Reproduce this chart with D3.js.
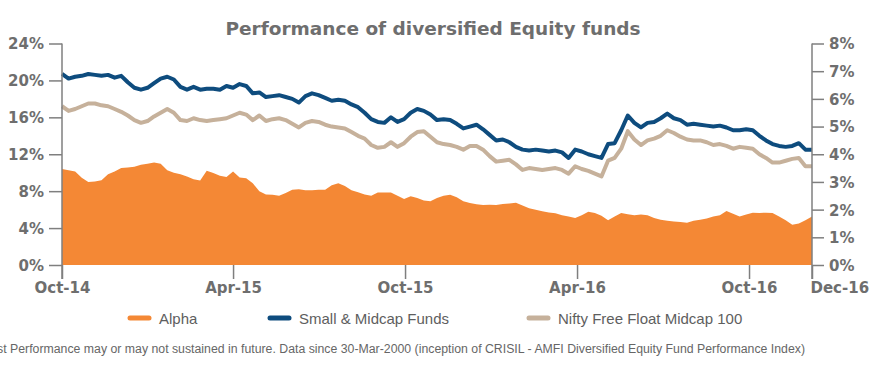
<!DOCTYPE html>
<html>
<head>
<meta charset="utf-8">
<script src="https://cdn.jsdelivr.net/npm/d3@7"></script>
<style>
  body { margin: 0; background: #fff; }
  svg { display: block; }
</style>
</head>
<body>
<svg id="chart" width="870" height="376"></svg>
<script>

const dates = [
  "2014-10-01","2014-10-08","2014-10-15","2014-10-22","2014-10-29","2014-11-05","2014-11-12","2014-11-19","2014-11-26",
  "2014-12-03","2014-12-10","2014-12-17","2014-12-24","2014-12-31",
  "2015-01-07","2015-01-14","2015-01-21","2015-01-28","2015-02-04","2015-02-11","2015-02-18","2015-02-25",
  "2015-03-04","2015-03-11","2015-03-18","2015-03-25","2015-04-01","2015-04-08","2015-04-15","2015-04-22","2015-04-29",
  "2015-05-06","2015-05-13","2015-05-20","2015-05-27","2015-06-03","2015-06-10","2015-06-17","2015-06-24",
  "2015-07-01","2015-07-08","2015-07-15","2015-07-22","2015-07-29","2015-08-05","2015-08-12","2015-08-19","2015-08-26",
  "2015-09-02","2015-09-09","2015-09-16","2015-09-23","2015-09-30","2015-10-07","2015-10-14","2015-10-21","2015-10-28",
  "2015-11-04","2015-11-11","2015-11-18","2015-11-25","2015-12-02","2015-12-09","2015-12-16","2015-12-23","2015-12-30",
  "2016-01-06","2016-01-13","2016-01-20","2016-01-27","2016-02-03","2016-02-10","2016-02-17","2016-02-24",
  "2016-03-02","2016-03-09","2016-03-16","2016-03-23","2016-03-30","2016-04-06","2016-04-13","2016-04-20","2016-04-27",
  "2016-05-04","2016-05-11","2016-05-18","2016-05-25","2016-06-01","2016-06-08","2016-06-15","2016-06-22","2016-06-29",
  "2016-07-06","2016-07-13","2016-07-20","2016-07-27","2016-08-03","2016-08-10","2016-08-17","2016-08-24","2016-08-31",
  "2016-09-07","2016-09-14","2016-09-21","2016-09-28","2016-10-05","2016-10-12","2016-10-19","2016-10-26",
  "2016-11-02","2016-11-09","2016-11-16","2016-11-23","2016-11-30","2016-12-07"
];

// Small & Midcap Funds (left axis, %)
const smallMidcap = [
  20.7,20.2,20.4,20.5,20.7,20.6,20.5,20.6,20.3,20.5,19.8,19.2,19.0,19.2,19.7,20.2,20.4,20.1,19.3,19.0,
  19.3,19.0,19.1,19.1,19.0,19.4,19.2,19.6,19.4,18.6,18.7,18.2,18.3,18.4,18.2,18.0,17.6,18.3,18.6,18.4,
  18.1,17.8,17.9,17.8,17.4,17.1,16.5,15.8,15.5,15.4,16.0,15.5,15.8,16.5,16.9,16.7,16.3,15.7,15.8,15.7,
  15.3,14.8,15.0,15.2,14.7,14.1,13.5,13.6,13.3,12.8,12.5,12.4,12.5,12.4,12.3,12.4,12.2,11.6,12.5,12.3,
  12.0,11.8,11.6,13.1,13.2,14.6,16.2,15.4,14.9,15.4,15.5,15.9,16.4,15.9,15.7,15.2,15.3,15.2,15.1,15.0,
  15.1,14.9,14.6,14.6,14.7,14.6,14.0,13.5,13.1,12.9,12.8,12.9,13.2,12.5,12.5
];

// Nifty Free Float Midcap 100 (left axis, %)
const niftyMidcap = [
  17.2,16.7,16.9,17.2,17.5,17.5,17.3,17.2,16.9,16.6,16.2,15.7,15.4,15.6,16.1,16.5,16.9,16.5,15.7,15.6,
  15.9,15.7,15.6,15.7,15.8,15.9,16.2,16.5,16.3,15.7,16.2,15.6,15.8,15.9,15.7,15.3,14.9,15.4,15.6,15.5,
  15.2,15.0,14.9,14.8,14.4,14.0,13.7,13.0,12.7,12.8,13.3,12.8,13.2,13.9,14.4,14.5,13.9,13.3,13.1,13.0,
  12.8,12.5,12.9,12.9,12.5,11.8,11.2,11.3,11.4,10.9,10.3,10.5,10.4,10.3,10.4,10.5,10.3,9.9,10.7,10.4,
  10.2,9.9,9.6,11.3,11.6,12.6,14.5,13.6,13.0,13.5,13.7,14.0,14.6,14.3,13.9,13.6,13.5,13.5,13.3,13.0,
  13.1,12.9,12.6,12.8,12.7,12.6,12.0,11.6,11.1,11.1,11.3,11.5,11.6,10.7,10.7
];

// Alpha (right axis, %)
const alpha = [
  3.47,3.42,3.38,3.15,3.00,3.02,3.06,3.28,3.38,3.50,3.52,3.55,3.62,3.66,3.70,3.66,3.42,3.33,3.28,3.20,
  3.10,3.05,3.40,3.32,3.22,3.18,3.38,3.16,3.13,2.95,2.66,2.55,2.54,2.50,2.60,2.72,2.74,2.70,2.70,2.72,
  2.72,2.88,2.95,2.85,2.70,2.63,2.55,2.50,2.62,2.62,2.62,2.50,2.38,2.48,2.42,2.33,2.30,2.42,2.50,2.54,
  2.45,2.30,2.24,2.19,2.17,2.18,2.17,2.20,2.22,2.25,2.15,2.05,2.00,1.94,1.90,1.87,1.80,1.75,1.70,1.80,
  1.92,1.88,1.78,1.62,1.75,1.88,1.83,1.80,1.82,1.80,1.70,1.63,1.60,1.57,1.55,1.53,1.60,1.63,1.68,1.75,
  1.80,1.95,1.85,1.75,1.82,1.89,1.88,1.89,1.88,1.75,1.62,1.45,1.50,1.62,1.75
];

const leftTicks = [0, 4, 8, 12, 16, 20, 24];
const rightTicks = [0, 1, 2, 3, 4, 5, 6, 7, 8];
const xTickDates = ["2014-10-01", "2015-04-01", "2015-10-01", "2016-04-01", "2016-10-01", "2016-12-07"];

const seriesNames = ["Alpha", "Small & Midcap Funds", "Nifty Free Float Midcap 100"];
const seriesColors = ["#f48835", "#0e4c7e", "#c6b19b"];

const titleText = "Performance of diversified Equity funds";
const footText = "Past Performance may or may not sustained in future. Data since 30-Mar-2000 (inception of CRISIL - AMFI Diversified Equity Fund Performance Index)";


const chart = function(){

    let svg = d3.select('#chart'),
        margin = {top: 43.5, right: 58, bottom: 111, left: 62};

    let width = 870 - (margin.left + margin.right),
        height = 376 - (margin.top + margin.bottom);

    let parse = d3.utcParse("%Y-%m-%d");
    let records = dates.map((d, i) => ({
        date: parse(d),
        small: smallMidcap[i],
        nifty: niftyMidcap[i],
        alpha: alpha[i]
    }));

    let xScale = d3.scaleUtc()
                    .domain([parse(dates[0]), parse(dates[dates.length - 1])])
                    .range([0, width]);

    let yLeft = d3.scaleLinear()
                    .domain([0, 24])
                    .range([height, 0]);

    let yRight = d3.scaleLinear()
                    .domain([0, 8])
                    .range([height, 0]);

    let g = svg.append("g")
        .attr("transform", `translate(${margin.left},${margin.top})`);

    // alpha as a filled area against the right axis
    let area = d3.area()
        .x(d => xScale(d.date))
        .y0(yRight(0))
        .y1(d => yRight(d.alpha));

    g.append("path")
        .datum(records)
        .attr("d", area)
        .style("fill", seriesColors[0]);

    let lineSmall = d3.line()
        .x(d => xScale(d.date))
        .y(d => yLeft(d.small));

    let lineNifty = d3.line()
        .x(d => xScale(d.date))
        .y(d => yLeft(d.nifty));

    g.append("path")
        .datum(records)
        .attr("d", lineSmall)
        .style("fill", "none")
        .style("stroke", seriesColors[1])
        .style("stroke-width", 4)
        .style("stroke-linejoin", "round");

    g.append("path")
        .datum(records)
        .attr("d", lineNifty)
        .style("fill", "none")
        .style("stroke", seriesColors[2])
        .style("stroke-width", 4)
        .style("stroke-linejoin", "round");

    /// axes
    const axisGrey = "#7f7f7f",
          labelGrey = "#6e6e6e";

    let yAxisL = d3.axisLeft(yLeft)
                    .tickValues(leftTicks)
                    .tickFormat(d => d + "%")
                    .tickSize(13)
                    .tickPadding(5);

    let yAxisR = d3.axisRight(yRight)
                    .tickValues(rightTicks)
                    .tickFormat(d => d + "%")
                    .tickSize(12)
                    .tickPadding(5);

    let xAxis = d3.axisBottom(xScale)
                    .tickValues(xTickDates.map(parse))
                    .tickFormat(d3.utcFormat("%b-%y"))
                    .tickSize(14)
                    .tickPadding(3);

    g.append("g")
        .attr("class", "axis y-axis")
        .call(yAxisL);

    g.append("g")
        .attr("class", "axis y2-axis")
        .attr("transform", `translate(${width},0)`)
        .call(yAxisR);

    g.append("g")
        .attr("class", "axis x-axis")
        .attr("transform", `translate(0,${height})`)
        .call(xAxis);

    g.selectAll(".axis .domain").remove();

    // vertical axis lines run down to the end of the x ticks
    [0, width].forEach(function(xv){
        g.append("line")
            .attr("x1", xv).attr("x2", xv)
            .attr("y1", yLeft(24)).attr("y2", height + 14)
            .style("stroke", axisGrey)
            .style("stroke-width", 1.5);
    });

    g.selectAll(".axis .tick line")
        .style("stroke", axisGrey)
        .style("stroke-width", 1.5);

    g.selectAll(".axis .tick text")
        .style("fill", labelGrey)
        .style("font-family", "'DejaVu Sans', Verdana, sans-serif")
        .style("font-weight", "bold")
        .style("font-size", "15px");

    g.selectAll(".y-axis .tick text, .y2-axis .tick text")
        .attr("dy", "0.36em");

    // last x label sits to the right of its tick
    let xTicks = g.selectAll(".x-axis g.tick text");
    xTicks.filter((d, i) => i == xTicks.size() - 1)
        .attr("text-anchor", "start")
        .attr("x", -2);

    /// title
    svg.append("text")
        .attr("x", 433)
        .attr("y", 35)
        .attr("text-anchor", "middle")
        .style("font-family", "'DejaVu Sans', Verdana, sans-serif")
        .style("font-weight", "bold")
        .style("font-size", "18.5px")
        .style("fill", labelGrey)
        .text(titleText);

    /// legend
    let legendX = [128, 268, 527];
    let legend = svg.selectAll(".legend")
        .data(seriesNames)
        .enter()
        .append("g")
        .attr("class", "legend")
        .attr("transform", (d, i) => `translate(${legendX[i]},318)`);

    legend.append("line")
        .attr("x1", 2).attr("x2", 21)
        .attr("y1", 0).attr("y2", 0)
        .style("stroke", (d, i) => seriesColors[i])
        .style("stroke-width", 5)
        .style("stroke-linecap", "round");

    legend.append("text")
        .attr("x", 31)
        .attr("y", 5.5)
        .style("font-family", "'Liberation Sans', Arial, sans-serif")
        .style("font-size", "15px")
        .style("fill", "#5e5e5e")
        .text(d => d);

    /// footnote, cut at the left edge like the source
    svg.append("text")
        .attr("x", -18)
        .attr("y", 353)
        .attr("textLength", 823)
        .attr("lengthAdjust", "spacingAndGlyphs")
        .style("font-family", "'Liberation Sans Narrow', 'Liberation Sans', sans-serif")
        .style("font-size", "12px")
        .style("fill", "#666")
        .text(footText);

}();

</script>
</body>
</html>
